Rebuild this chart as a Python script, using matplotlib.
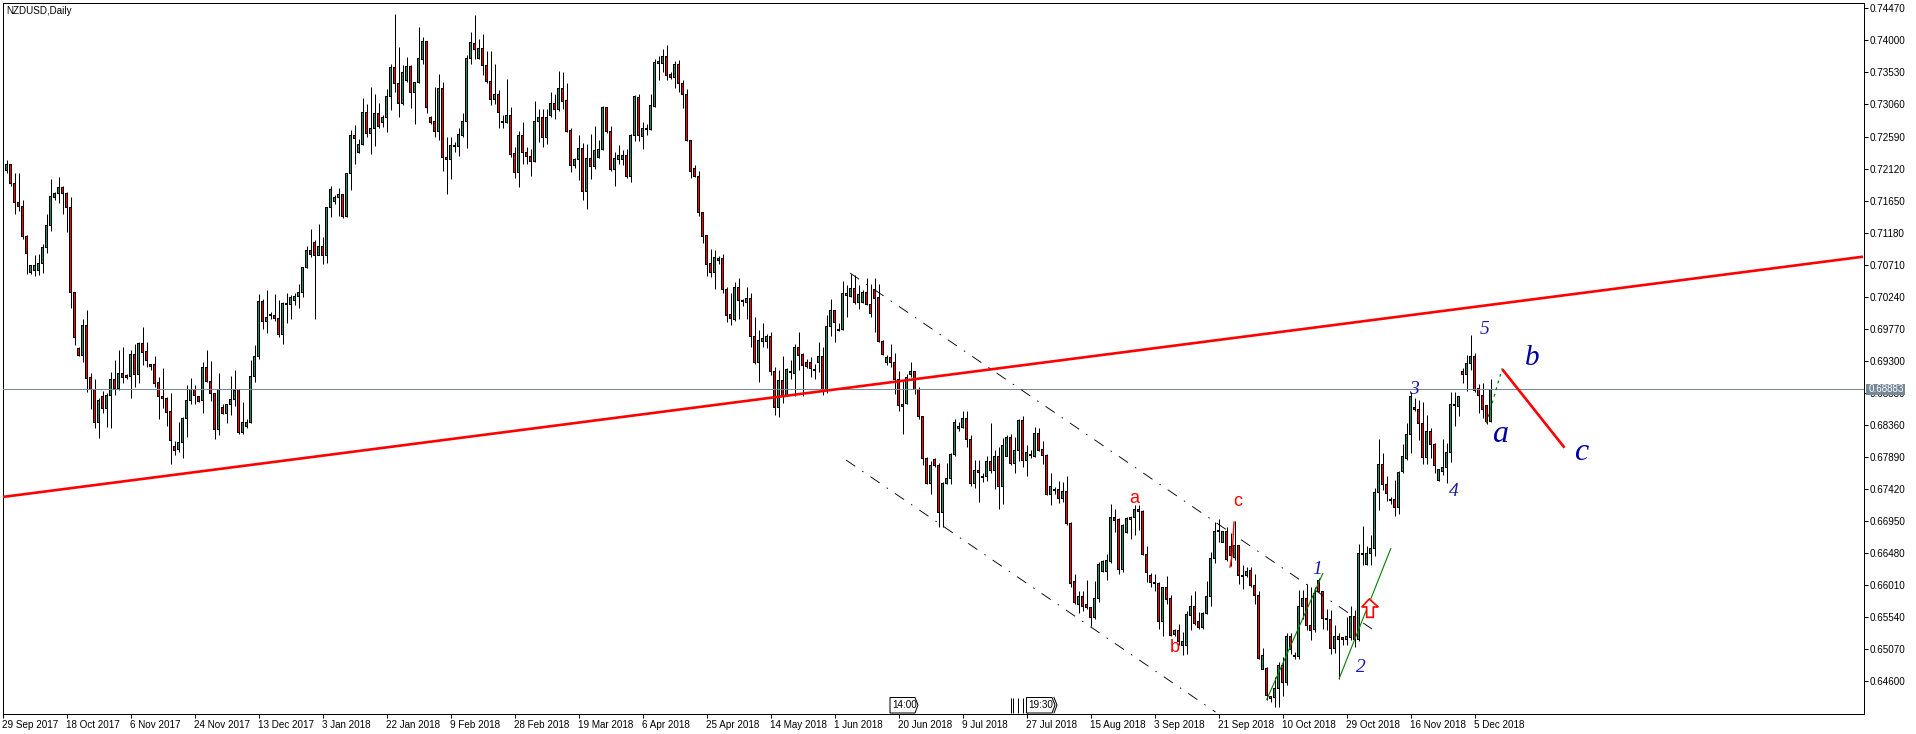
import numpy as np
import matplotlib
matplotlib.use("Agg")
import matplotlib.pyplot as plt
from matplotlib.patches import Polygon, Rectangle

plt.rcParams['font.family'] = ['Liberation Sans', 'DejaVu Sans']
plt.rcParams['lines.scale_dashes'] = False

# Daily NZDUSD candles, in 1/10000 of a dollar
opens = [7211,7209,7218,7190,7162,7156,7113,7059,7063,7063,
7073,7096,7128,7170,7175,7184,7175,7155,7030,6948,
6938,6982,6905,6888,6840,6878,6860,6879,6903,6889,
6912,6908,6907,6939,6910,6955,6943,6924,6924,6898,
6878,6875,6855,6804,6800,6810,6845,6872,6888,6877,
6872,6920,6900,6882,6830,6861,6853,6866,6874,6888,
6825,6834,6840,6907,6936,7017,6987,6997,6997,6992,
6968,7013,7013,7019,7024,7030,7067,7092,7103,7085,
7098,7085,7155,7164,7170,7174,7142,7205,7261,7236,
7247,7294,7264,7271,7293,7280,7287,7317,7360,7337,
7308,7341,7362,7324,7338,7372,7398,7287,7281,7266,
7329,7228,7225,7244,7244,7261,7281,7373,7395,7374,
7388,7363,7340,7314,7321,7280,7280,7290,7234,7206,
7261,7235,7229,7223,7281,7287,7258,7290,7307,7298,
7329,7312,7268,7216,7225,7241,7178,7227,7215,7228,
7240,7302,7266,7210,7226,7226,7231,7200,7260,7316,
7259,7269,7270,7303,7366,7366,7376,7350,7345,7364,
7337,7321,7253,7212,7200,7148,7114,7073,7060,7077,
7080,7035,6998,6991,7037,7018,7015,7021,6966,6928,
6959,6958,6966,6915,6861,6901,6879,6914,6912,6949,
6939,6927,6927,6917,6927,6936,6886,6980,7004,6976,
6976,7026,7025,7036,7016,7016,7030,7013,7035,7023,
6958,6927,6935,6927,6902,6866,6867,6910,6914,6888,
6849,6787,6750,6785,6777,6707,6750,6757,6793,6831,
6832,6846,6815,6750,6769,6761,6761,6783,6769,6790,
6746,6790,6818,6779,6799,6842,6784,6792,6790,6823,
6800,6791,6734,6741,6741,6728,6739,6692,6606,6572,
6584,6573,6568,6554,6581,6621,6621,6636,6700,6697,
6624,6678,6697,6700,6712,6709,6646,6615,6605,6604,
6548,6597,6581,6528,6535,6512,6512,6557,6570,6547,
6539,6559,6584,6640,6679,6664,6680,6658,6641,6659,
6615,6615,6623,6600,6586,6478,6479,6437,6436,6449,
6483,6458,6525,6497,6497,6570,6581,6542,6536,6608,
6592,6552,6551,6508,6526,6524,6522,6524,6555,6521,
6647,6632,6647,6655,6737,6778,6749,6727,6727,6715,
6767,6787,6822,6862,6859,6838,6788,6827,6808,6755,
6768,6773,6795,6865,6863,6915,6910,6926,6937,6890,
6879,6864,6841]

highs = [7222,7225,7218,7205,7205,7166,7115,7071,7085,7087,
7102,7146,7196,7178,7199,7187,7178,7170,7031,6950,
6991,7004,6912,6903,6876,6886,6883,6914,6931,6946,
6951,6911,6946,6955,6958,6979,6958,6926,6937,6906,
6920,6877,6883,6812,6840,6848,6894,6905,6894,6879,
6929,6946,6930,6882,6912,6867,6867,6908,6916,6888,
6870,6844,6931,6953,7028,7020,7034,7001,7028,7019,
7016,7029,7026,7029,7042,7068,7098,7123,7107,7131,
7111,7156,7187,7173,7184,7175,7206,7269,7276,7255,
7315,7306,7331,7321,7308,7290,7329,7365,7438,7391,
7364,7376,7364,7339,7420,7405,7399,7289,7331,7350,
7339,7258,7258,7251,7271,7293,7378,7412,7437,7402,
7409,7384,7384,7365,7327,7290,7344,7302,7244,7267,
7280,7244,7241,7311,7299,7299,7299,7324,7322,7355,
7354,7337,7271,7227,7261,7249,7248,7262,7274,7254,
7304,7303,7274,7236,7246,7239,7240,7263,7320,7322,
7281,7277,7322,7373,7377,7387,7393,7353,7370,7371,
7342,7329,7254,7217,7208,7148,7114,7094,7093,7084,
7087,7039,7030,7045,7051,7021,7039,7029,6995,6975,
6986,6969,6973,6921,6916,6937,6919,6931,6955,6972,
6942,6933,6936,6926,6957,6950,6997,7021,7004,6986,
7047,7041,7058,7056,7041,7034,7052,7043,7051,7042,
6960,6938,6954,6941,6915,6902,6911,6928,6915,6891,
6849,6789,6783,6788,6780,6752,6780,6795,6844,6840,
6857,6856,6821,6784,6784,6766,6791,6839,6799,6804,
6817,6821,6823,6818,6845,6849,6806,6799,6833,6832,
6813,6793,6765,6745,6754,6752,6761,6693,6617,6592,
6593,6608,6569,6607,6635,6638,6647,6720,6713,6700,
6691,6701,6702,6718,6718,6711,6658,6619,6618,6606,
6598,6614,6586,6536,6544,6532,6563,6587,6593,6562,
6561,6607,6650,6694,6698,6681,6686,6677,6695,6660,
6630,6628,6628,6618,6592,6509,6481,6439,6466,6488,
6496,6531,6531,6503,6594,6594,6602,6598,6598,6611,
6593,6566,6565,6542,6531,6525,6554,6571,6565,6661,
6688,6659,6674,6743,6816,6795,6761,6730,6755,6768,
6808,6839,6884,6876,6872,6870,6851,6832,6809,6772,
6816,6809,6885,6884,6879,6919,6939,6968,6942,6896,
6897,6865,6903]

lows = [7209,7206,7186,7145,7150,7108,7057,7057,7055,7056,
7059,7088,7121,7166,7162,7146,7119,7008,6953,6937,
6928,6885,6860,6831,6817,6853,6833,6831,6880,6887,
6897,6904,6875,6891,6897,6924,6921,6916,6892,6844,
6861,6834,6779,6792,6796,6788,6818,6866,6866,6869,
6853,6899,6871,6816,6821,6852,6839,6850,6864,6823,
6822,6831,6839,6899,6933,6977,6971,6992,6989,6965,
6954,6986,6992,7012,7008,7024,7066,7082,6992,7085,
7072,7073,7141,7160,7142,7139,7141,7180,7218,7235,
7246,7259,7234,7245,7272,7273,7266,7298,7325,7288,
7305,7339,7301,7277,7337,7366,7293,7277,7258,7254,
7208,7174,7196,7237,7230,7259,7242,7366,7372,7372,
7349,7337,7305,7306,7271,7271,7279,7229,7198,7185,
7219,7219,7201,7221,7251,7244,7248,7287,7285,7296,
7300,7266,7207,7213,7195,7166,7152,7197,7212,7227,
7239,7264,7209,7187,7219,7217,7198,7192,7253,7253,
7240,7261,7269,7302,7342,7354,7342,7344,7330,7325,
7301,7252,7198,7199,7142,7103,7054,7053,7036,7072,
7029,6987,6982,6989,6991,7011,6991,6950,6926,6899,
6950,6949,6909,6851,6848,6868,6878,6904,6879,6916,
6879,6919,6906,6904,6914,6880,6883,6966,6958,6974,
6975,6995,7024,7013,7006,7015,7012,6994,6972,6957,
6938,6924,6921,6882,6856,6823,6866,6906,6882,6844,
6777,6749,6734,6775,6686,6686,6749,6749,6791,6827,
6831,6804,6747,6744,6723,6752,6754,6765,6742,6712,
6720,6790,6777,6765,6783,6774,6761,6788,6789,6798,
6779,6733,6718,6735,6721,6723,6689,6598,6573,6560,
6563,6566,6541,6552,6576,6620,6609,6634,6679,6618,
6620,6677,6668,6675,6682,6645,6606,6598,6592,6537,
6527,6574,6526,6527,6513,6499,6500,6535,6543,6537,
6537,6558,6570,6634,6664,6664,6637,6629,6638,6602,
6596,6613,6598,6573,6492,6478,6432,6429,6423,6423,
6439,6455,6500,6492,6493,6552,6535,6521,6533,6591,
6537,6535,6500,6502,6463,6513,6513,6520,6511,6519,
6631,6631,6630,6644,6711,6741,6724,6720,6702,6706,
6766,6784,6795,6856,6814,6779,6779,6787,6765,6754,
6763,6751,6782,6835,6849,6897,6886,6916,6885,6854,
6846,6838,6841]

closes = [7219,7218,7190,7162,7156,7112,7088,7070,7070,7073,
7096,7128,7171,7175,7184,7175,7155,7030,6964,6938,
6982,6904,6888,6840,6872,6860,6879,6903,6889,6912,
6905,6906,6939,6910,6955,6942,6931,6922,6897,6878,
6875,6854,6813,6799,6810,6846,6872,6888,6879,6871,
6920,6899,6882,6830,6888,6853,6866,6874,6886,6825,
6840,6840,6907,6937,7017,6987,6993,6998,6992,6968,
7014,7014,7023,7025,7030,7067,7092,7086,7085,7098,
7085,7155,7182,7170,7174,7142,7205,7261,7256,7248,
7294,7264,7271,7293,7274,7287,7318,7360,7337,7308,
7353,7362,7323,7338,7373,7398,7301,7280,7266,7329,
7228,7225,7246,7245,7262,7281,7373,7397,7387,7388,
7363,7339,7314,7321,7294,7279,7290,7233,7206,7261,
7235,7229,7223,7281,7287,7258,7287,7307,7298,7329,
7310,7267,7216,7226,7241,7178,7227,7215,7238,7240,
7302,7266,7210,7227,7231,7231,7200,7260,7317,7260,
7271,7271,7304,7368,7369,7376,7349,7345,7364,7337,
7320,7253,7207,7200,7147,7113,7072,7060,7082,7080,
7035,6997,6992,7037,7019,7017,7021,6965,6928,6960,
6963,6966,6914,6861,6901,6879,6918,6913,6949,6938,
6923,6922,6919,6916,6936,6886,6980,7004,6986,6975,
7029,7029,7036,7016,7027,7030,7013,7000,7021,6958,
6939,6935,6927,6902,6864,6863,6905,6914,6888,6848,
6787,6750,6777,6777,6707,6750,6758,6793,6840,6833,
6846,6815,6750,6769,6766,6759,6783,6769,6790,6746,
6806,6818,6779,6799,6842,6784,6796,6791,6823,6799,
6791,6734,6745,6740,6728,6739,6691,6604,6575,6584,
6570,6568,6554,6582,6632,6636,6637,6700,6696,6624,
6689,6699,6700,6712,6709,6646,6619,6605,6603,6547,
6597,6580,6527,6535,6518,6519,6558,6570,6545,6539,
6560,6585,6640,6679,6680,6680,6638,6645,6659,6615,
6614,6621,6601,6586,6494,6498,6439,6435,6449,6483,
6458,6525,6506,6496,6570,6581,6542,6535,6589,6591,
6552,6550,6508,6526,6522,6522,6525,6555,6522,6648,
6646,6648,6655,6737,6778,6749,6735,6725,6715,6766,
6789,6822,6877,6859,6838,6788,6826,6807,6776,6770,
6774,6796,6866,6864,6878,6910,6926,6937,6886,6879,
6859,6841,6888]

date_labels = ['29 Sep 2017','18 Oct 2017','6 Nov 2017','24 Nov 2017','13 Dec 2017','3 Jan 2018',
               '22 Jan 2018','9 Feb 2018','28 Feb 2018','19 Mar 2018','6 Apr 2018','25 Apr 2018',
               '14 May 2018','1 Jun 2018','20 Jun 2018','9 Jul 2018','27 Jul 2018','15 Aug 2018',
               '3 Sep 2018','21 Sep 2018','10 Oct 2018','29 Oct 2018','16 Nov 2018','5 Dec 2018']
price_ticks = [0.74470,0.74000,0.73530,0.73060,0.72590,0.72120,0.71650,0.71180,0.70710,0.70240,0.69770,
               0.69300,0.68830,0.68360,0.67890,0.67420,0.66950,0.66480,0.66010,0.65540,0.65070,0.64600]
last_price = 0.68883

W, H = 1916, 734
fig = plt.figure(figsize=(W/100, H/100), dpi=100, facecolor='white')
L, R, T, B = 2.5, 1863.5, 2.5, 713.5
ax = fig.add_axes([L/W, 1-B/H, (R-L)/W, (B-T)/H])

def X(px):
    return (px-2.5)/4.0
def Y(py):
    return (7459.2-1.4666*py)/1e4

ax.set_xlim(X(L), X(R))
ax.set_ylim(Y(B), Y(T))

PX = 0.72  # one pixel, in points
PRICE_PX = 1.4666/1e4  # one pixel, in price

n = len(opens)
xs = np.arange(n)
o = np.array(opens)/1e4; h = np.array(highs)/1e4; l = np.array(lows)/1e4; c = np.array(closes)/1e4
up = c >= o
wicks = ax.vlines(xs, l, h, colors='black', linewidth=PX, zorder=2)
wicks.set_snap(True)
body_bot = np.minimum(o, c); body_top = np.maximum(o, c)
# black outer body three pixels wide, coloured core one pixel wide
outer_h = np.maximum(body_top-body_bot, PRICE_PX)
ax.bar(xs, outer_h + PRICE_PX, bottom=body_bot - PRICE_PX/2, width=0.75, color='black', linewidth=0,
       zorder=3, antialiased=False)
core_h = body_top - body_bot - PRICE_PX
for mask, col in [(up & (core_h > 0), '#2E8B57'), (~up & (core_h > 0), '#FF0000')]:
    ax.bar(xs[mask], core_h[mask], bottom=body_bot[mask] + PRICE_PX/2, width=0.25, color=col, linewidth=0,
           zorder=3.5, antialiased=False)

ax.axhline(last_price, color='#778899', linewidth=PX, zorder=4, snap=True)

def seg(x0, y0, x1, y1, **kw):
    ax.plot([X(x0), X(x1)], [Y(y0), Y(y1)], zorder=5, solid_capstyle='butt', clip_on=True, **kw)

seg(2.5, 497, 1863, 256.7, color='#FF0000', linewidth=1.9)
seg(1502.3, 369.3, 1564.5, 447.7, color='#FF0000', linewidth=1.9)
dd = (0, (8, 6.1, 1.1, 6.1))
seg(850, 273, 1372, 629, color='black', linewidth=0.65, linestyle=dd)
seg(846, 460, 1215.5, 712, color='black', linewidth=0.65, linestyle=dd)
seg(1339, 679, 1391, 548, color='#008000', linewidth=0.8)
seg(1266.5, 700, 1323, 573, color='#008000', linewidth=0.8)
seg(1486.3, 423.3, 1502.3, 368.3, color='#008000', linewidth=0.9, linestyle=(0, (2, 3)))
ax.plot([X(1234), X(1233), X(1232), X(1230)], [Y(522), Y(540), Y(556), Y(567)], color='#FF0000',
        linewidth=1.0, zorder=5)

arrow = [(1369.3,599),(1378.3,607),(1373.3,607),(1373.3,617.3),(1366.7,617.3),(1366.7,607),(1361.7,607)]
ax.add_patch(Polygon([(X(a), Y(b)) for a, b in arrow], closed=True, facecolor='white', edgecolor='#FF0000',
                     linewidth=1.2, zorder=6))

def label(px, py, s, color, size, **kw):
    ax.text(X(px), Y(py), s, color=color, fontsize=size, ha='center', va='center', zorder=7, **kw)

for px, py, s in [(1134.7, 498, 'a'), (1175, 647, 'b'), (1238, 502, 'c')]:
    label(px, py, s, '#FF0000', 13, family=['Liberation Sans'])
blue = '#1A1AA6'
for px, py, s in [(1317, 569, '1'), (1361, 668, '2'), (1413.5, 390, '3'), (1453.5, 492, '4'), (1485, 330, '5')]:
    label(px, py, s, blue, 14, family=['Liberation Serif'], style='italic')
navy = '#0000A0'
label(1500, 434, 'a', navy, 23, family=['Liberation Serif'], style='italic')
label(1532, 358, 'b', navy, 21, family=['Liberation Serif'], style='italic')
label(1581, 452, 'c', navy, 23, family=['Liberation Serif'], style='italic')

ax.text(X(6.5), Y(10.5), 'NZDUSD,Daily', fontsize=7.1, color='black', ha='left', va='center', zorder=8)

# time separators near the bottom axis
for px in [1010.5, 1013, 1018, 1022.5, 1026.5]:
    seg(px, 697.5, px, 713, color='black', linewidth=PX)
def tag(x0, x1, s, double=False):
    pts = [(x0,697.5),(x1-3,697.5),(x1,705),(x1-3,713),(x0,713)]
    ax.add_patch(Polygon([(X(a), Y(b)) for a, b in pts], closed=True, facecolor='white', edgecolor='black',
                         linewidth=PX, zorder=6))
    if double:
        ax.plot([X(x1-1), X(x1+2), X(x1-1)], [Y(697.5), Y(705), Y(713)], color='black', linewidth=PX, zorder=6)
    ax.text(X(x0+2), Y(705), s, fontsize=7.1, color='black', ha='left', va='center', zorder=7)
tag(890, 918, '14:00')
tag(1026.5, 1055, '19:30', double=True)

for s in ax.spines.values():
    s.set_linewidth(PX)
    s.set_color('black')
ax.yaxis.tick_right()
ax.set_yticks(price_ticks)
ax.set_yticklabels(['%.5f' % v for v in price_ticks], fontsize=7.1)
ax.tick_params(axis='y', length=3, width=PX, pad=1.5, color='black')
ax.set_xticks(np.arange(len(date_labels))*16)
ax.set_xticklabels(date_labels, fontsize=7.1, ha='left')
ax.tick_params(axis='x', length=3, width=PX, pad=1.5, color='black')

# last-price tag on the price scale
fig.add_artist(Rectangle((1866/W, 1-395/H), 39/W, 11/H, transform=fig.transFigure, facecolor='#778899',
                         edgecolor='none', zorder=10))
fig.text(1869/W, 1-389.5/H, '%.5f' % last_price, fontsize=7.1, color='white', ha='left', va='center', zorder=11)

assert len(opens) == len(highs) == len(lows) == len(closes) == 373
fig.savefig('out.png', dpi=100, facecolor='white')
